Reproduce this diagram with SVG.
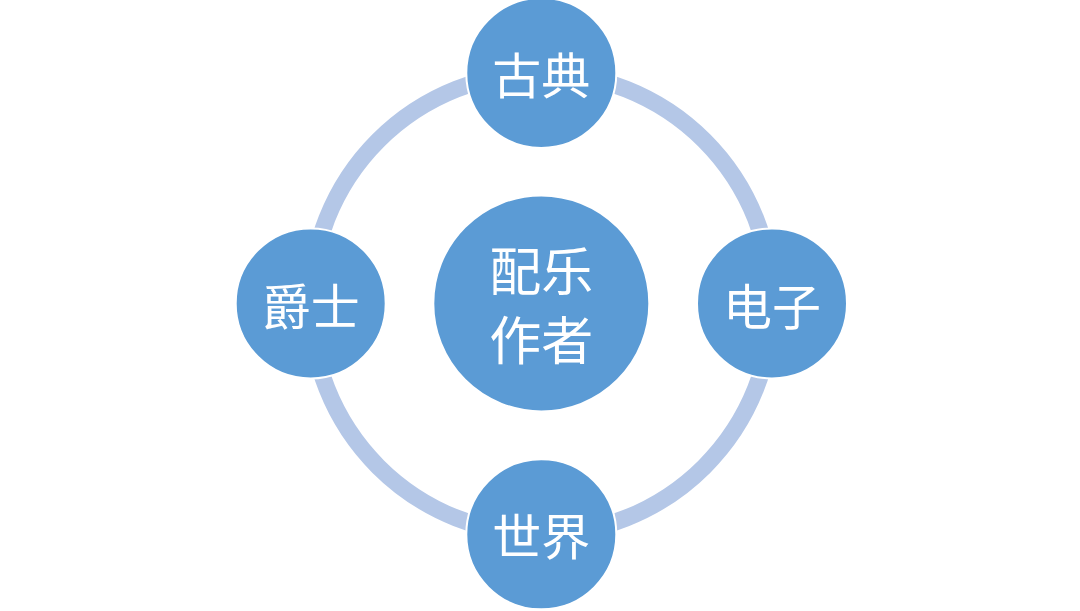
<svg xmlns="http://www.w3.org/2000/svg" width="1080" height="611" viewBox="0 0 1080 611">
<style>
.node{fill:#5B9BD5;stroke:#FFFFFF;stroke-width:2}
.lbl{fill:#FFFFFF;font-family:"Noto Sans CJK SC","Noto Sans CJK JP",sans-serif;font-weight:400;text-anchor:middle;dominant-baseline:central}
</style>
<rect width="1080" height="611" fill="#FFFFFF"/>
<g id="connectors">
<circle cx="541.3" cy="303.6" r="230.6" fill="none" stroke="#B4C7E7" stroke-width="17"/>
</g>
<g id="node-center">
<circle class="node" cx="541.3" cy="303.4" r="108"/>
<text class="lbl" x="541.3" y="268" font-size="52">配乐</text>
<text class="lbl" x="541.3" y="337" font-size="52">作者</text>
</g>
<g id="node-top">
<circle class="node" cx="541.3" cy="73" r="75"/>
<text class="lbl" x="541.3" y="72" font-size="49">古典</text>
</g>
<g id="node-bottom">
<circle class="node" cx="541.3" cy="534.3" r="75"/>
<text class="lbl" x="541.3" y="533" font-size="49">世界</text>
</g>
<g id="node-left">
<circle class="node" cx="310.7" cy="303.4" r="75"/>
<text class="lbl" x="310.7" y="303" font-size="49">爵士</text>
</g>
<g id="node-right">
<circle class="node" cx="772" cy="303.4" r="75"/>
<text class="lbl" x="772" y="303" font-size="49">电子</text>
</g>
</svg>
